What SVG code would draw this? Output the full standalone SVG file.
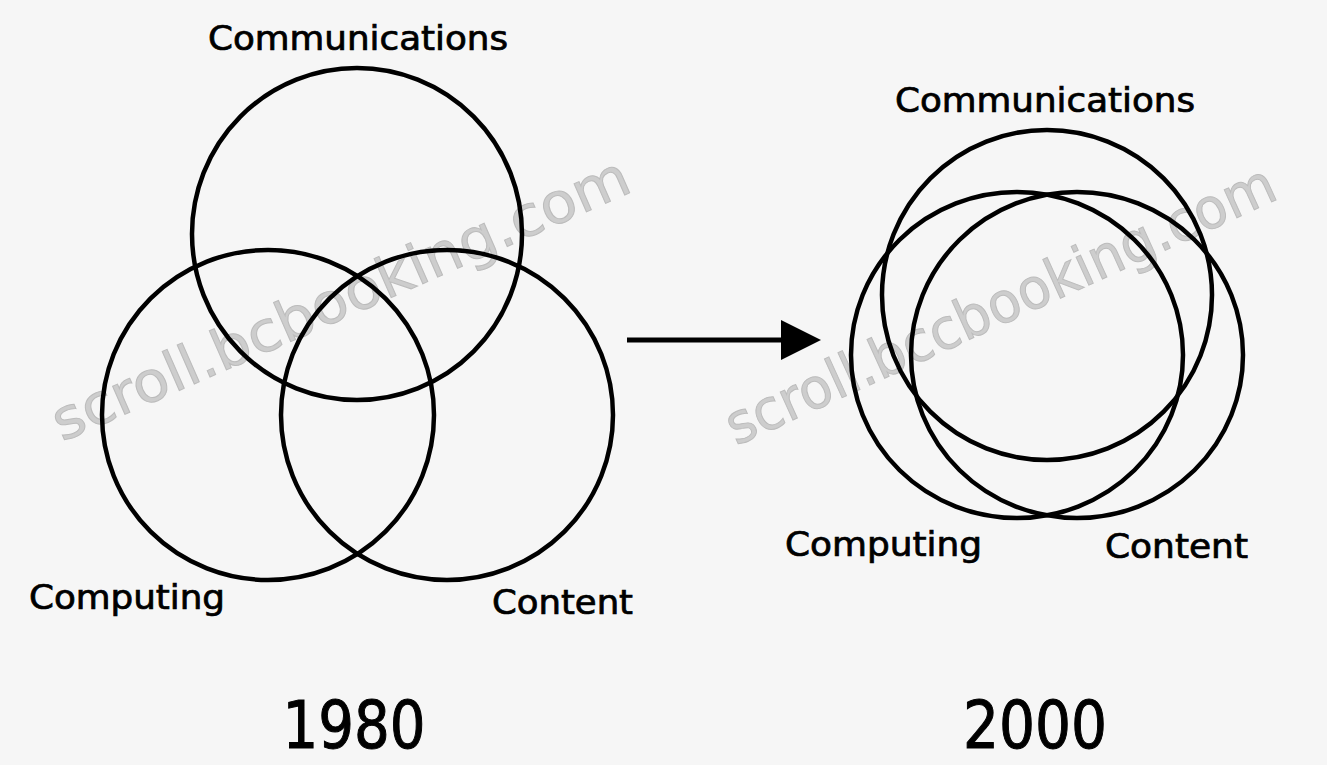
<svg xmlns="http://www.w3.org/2000/svg" width="1327" height="765" viewBox="0 0 1327 765">
  <style>
    .ring { fill: none; stroke: #000; stroke-width: 4.5; }
    .lbl { font-family: "DejaVu Sans Condensed", "DejaVu Sans", sans-serif; fill: #000; stroke: #000; stroke-width: 0.7; }
    .mid { font-size: 34px; }
    .year { font-size: 66px; text-anchor: middle; stroke-width: 1; }
    .wm { font-family: "DejaVu Sans", sans-serif; font-size: 56px; fill: #cdcdcd; stroke: #bcbcbc; stroke-width: 1; }
    .link { stroke: #000; stroke-width: 5; fill: none; }
  </style>
  <defs>
    <marker id="head" viewBox="0 0 40 40" refX="0" refY="20" markerUnits="userSpaceOnUse" markerWidth="40" markerHeight="40" orient="auto">
      <path d="M0,0 L40,20 L0,40 Z" fill="#000"/>
    </marker>
  </defs>

  <rect width="1327" height="765" fill="#f6f6f6"/>

  <!-- site stamp across both figures -->
  <g id="stamp">
    <text class="wm" x="0" y="0" transform="translate(62 442) rotate(-23.7)" textLength="625" lengthAdjust="spacingAndGlyphs">scroll.bcbooking.com</text>
    <text class="wm" x="0" y="0" transform="translate(736 446) rotate(-24.5)" textLength="598" lengthAdjust="spacingAndGlyphs">scroll.bccbooking.com</text>
  </g>

  <!-- 1980: three loosely overlapping sets -->
  <g id="communications-1980">
    <ellipse class="ring" cx="357" cy="234" rx="165" ry="166"/>
    <text class="lbl mid" x="208" y="50" textLength="300" lengthAdjust="spacingAndGlyphs">Communications</text>
  </g>
  <g id="computing-1980">
    <ellipse class="ring" cx="268" cy="415" rx="166" ry="165"/>
    <text class="lbl mid" x="29" y="609" textLength="196" lengthAdjust="spacingAndGlyphs">Computing</text>
  </g>
  <g id="content-1980">
    <ellipse class="ring" cx="447" cy="415" rx="166" ry="165"/>
    <text class="lbl mid" x="492" y="614" textLength="141" lengthAdjust="spacingAndGlyphs">Content</text>
  </g>
  <g id="year-1980">
    <text class="lbl year" x="354" y="748" textLength="143" lengthAdjust="spacingAndGlyphs">1980</text>
  </g>

  <!-- 2000: nearly converged sets -->
  <g id="communications-2000">
    <ellipse class="ring" cx="1047" cy="295" rx="165" ry="165"/>
    <text class="lbl mid" x="895" y="112" textLength="300" lengthAdjust="spacingAndGlyphs">Communications</text>
  </g>
  <g id="computing-2000">
    <ellipse class="ring" cx="1017" cy="355" rx="166" ry="163"/>
    <text class="lbl mid" x="785" y="556" textLength="197" lengthAdjust="spacingAndGlyphs">Computing</text>
  </g>
  <g id="content-2000">
    <ellipse class="ring" cx="1077" cy="355" rx="166" ry="163"/>
    <text class="lbl mid" x="1105" y="558" textLength="143" lengthAdjust="spacingAndGlyphs">Content</text>
  </g>
  <g id="year-2000">
    <text class="lbl year" x="1035" y="748" textLength="144" lengthAdjust="spacingAndGlyphs">2000</text>
  </g>

  <g id="connectors">
    <line class="link" x1="627" y1="340" x2="781" y2="340" marker-end="url(#head)"/>
  </g>
</svg>
